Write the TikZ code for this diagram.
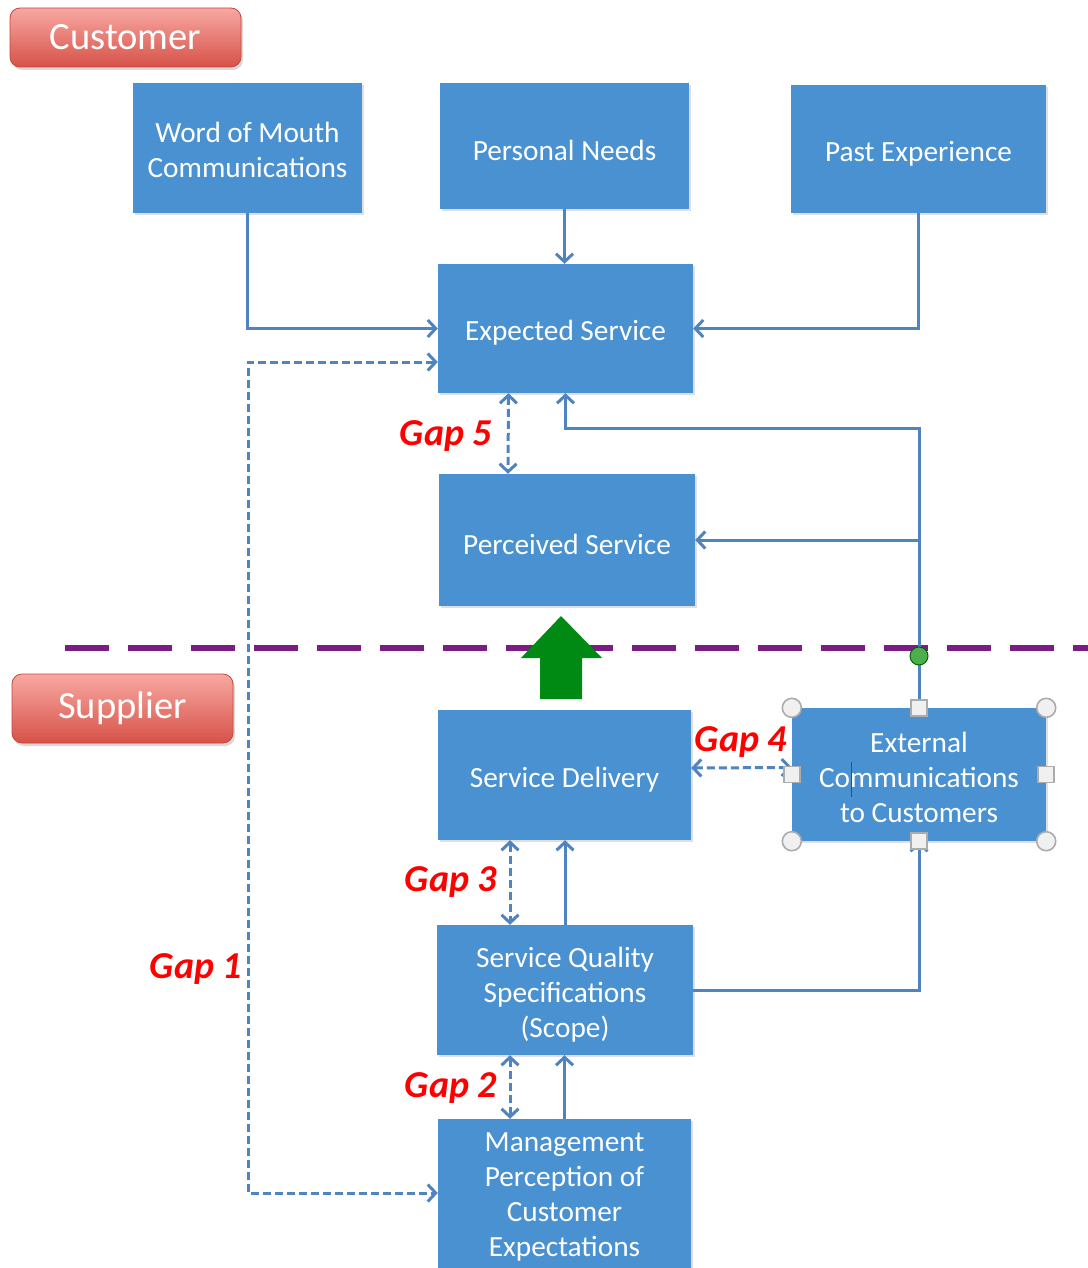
\documentclass[tikz,border=0pt]{standalone}
\usepackage{fontspec}
\setmainfont{Carlito}
\usetikzlibrary{arrows.meta,shadows}
\definecolor{boxblue}{RGB}{74,145,210}
\definecolor{linkblue}{RGB}{80,132,192}
\definecolor{gapred}{RGB}{255,0,0}
\definecolor{divpurple}{RGB}{122,30,132}
\definecolor{arrowgreen}{RGB}{0,138,20}
\definecolor{lblTop}{RGB}{248,168,162}
\definecolor{lblBot}{RGB}{214,82,72}
\definecolor{lblEdge}{RGB}{200,70,62}
\newcommand{\lowerby}[1]{\rule{0pt}{#1}}
\begin{document}
\begin{tikzpicture}[x=1pt,y=-1pt,
  blk/.style={fill=boxblue, text=white, align=center, inner sep=0pt,
    font=\fontsize{29.3}{35}\selectfont,
    drop shadow={shadow xshift=2pt, shadow yshift=-2pt, opacity=0.25}},
  lbl/.style={rounded corners=10pt, top color=lblTop, bottom color=lblBot, draw=lblEdge,
    line width=0.8pt, text=white, inner sep=0pt, font=\fontsize{38.5}{40}\selectfont,
    drop shadow={shadow xshift=2pt, shadow yshift=-3pt, opacity=0.3}},
  gaplbl/.style={text=gapred, inner sep=0pt, font=\fontsize{38}{40}\selectfont\bfseries\itshape},
  conn/.style={draw=linkblue, line width=3pt, -{Straight Barb[length=8pt,width=17pt,line width=3pt]}},
  dconn/.style={draw=linkblue, line width=3pt, dash pattern=on 8pt off 4pt,
    {Straight Barb[length=8pt,width=17pt,line width=3pt]}-{Straight Barb[length=8pt,width=17pt,line width=3pt]}},
  handle/.style={fill=gray!12, draw=gray!65, line width=1.6pt}
]
\useasboundingbox (0,0) rectangle (1087,1268);
\fill[white] (0,0) rectangle (1087,1268);

% category labels
\node[lbl, minimum width=231pt, minimum height=59pt] (cust) at (125.5,37.5) {Customer};
\node[lbl, minimum width=221pt, minimum height=69pt] (supp) at (122.5,708.5) {Supplier};

% divider
\draw[divpurple, line width=6pt, dash pattern=on 44pt off 19pt] (65,648) -- (1100,648);

% boxes
\node[blk, minimum width=229pt, minimum height=130pt] (wom) at (247.5,148) {\lowerby{24pt}Word of Mouth\\Communications};
\node[blk, minimum width=249pt, minimum height=126pt] (pn) at (564.5,146) {\lowerby{29pt}Personal Needs};
\node[blk, minimum width=255pt, minimum height=128pt] (pe) at (918.5,149) {\lowerby{29pt}Past Experience};
\node[blk, minimum width=255pt, minimum height=129pt] (es) at (565.5,328.5) {\lowerby{29pt}Expected Service};
\node[blk, minimum width=256pt, minimum height=132pt] (ps) at (567,540) {\lowerby{29pt}Perceived Service};
\node[blk, minimum width=253pt, minimum height=130pt] (sd) at (564.5,775) {\lowerby{29pt}Service Delivery};
\node[blk, minimum width=254pt, minimum height=133pt] (ec) at (919,774.5) {\lowerby{27pt}External\\Communications\\to Customers};
\node[blk, minimum width=256pt, minimum height=130pt] (sqs) at (565,990) {\lowerby{30pt}Service Quality\\Specifications\\(Scope)};
\node[blk, minimum width=253pt, minimum height=156pt] (mp) at (564.5,1197) {Management\\Perception of\\Customer\\Expectations};

% green arrow
\fill[arrowgreen] (561,616) -- (602,658) -- (582,658) -- (582,699) -- (540,699) -- (540,658) -- (521,658) -- cycle;

% helper coordinates
\coordinate (g1top) at (248,362);
\coordinate (g1bot) at (248,1193);
\coordinate (fbtop) at (919,428);
\coordinate (fbmid) at (919,540);
\coordinate (gpin) at (919,656);

% solid connectors
\draw[conn] (wom.south) |- (es.west);
\draw[conn] (pn.south) -- (pn.south |- es.north);
\draw[conn] (pe.south) |- (es.east);
\draw[conn] (ec.north) -- (fbtop) -| (es.south);
\draw[conn] (fbmid) -- (ps.east);
\draw[conn] (sqs.north) -- (sqs.north |- sd.south);
\draw[conn] (sqs.east) -| (ec.south);
\draw[conn] (mp.north) -- (mp.north |- sqs.south);

% gap connectors
\draw[dconn] ([yshift=-33.5pt]es.west) -- (g1top) -- (g1bot) -- (mp.west |- g1bot);
\draw[dconn] ([xshift=-57pt]es.south) -- ([xshift=-59pt]ps.north);
\draw[dconn] ([yshift=7pt]sd.east) -- ([yshift=7pt]ec.west);
\draw[dconn] ([xshift=-54.5pt]sd.south) -- ([xshift=-55pt]sqs.north);
\draw[dconn] ([xshift=-55pt]sqs.south) -- ([xshift=-54.5pt]mp.north);

% gap labels
\node[gaplbl] (gap5) at (446,436) {Gap 5};
\node[gaplbl] (gap4) at (741,742) {Gap 4};
\node[gaplbl] (gap3) at (451,882) {Gap 3};
\node[gaplbl] (gap1) at (196,969) {Gap 1};
\node[gaplbl] (gap2) at (451,1088) {Gap 2};

% selection handles
\foreach \p in {north west, north east, south west, south east}
  \draw[handle] (ec.\p) circle (9.5pt);
\foreach \p in {north, south, east, west}
  \draw[handle, shift={(ec.\p)}] (-8,-8) rectangle (8,8);
\draw[fill=green!55!black!70, draw=green!40!black, line width=1pt] (gpin) circle (9pt);
\draw[black!70, line width=0.8pt] (851,762) -- (851,797);
\end{tikzpicture}
\end{document}
